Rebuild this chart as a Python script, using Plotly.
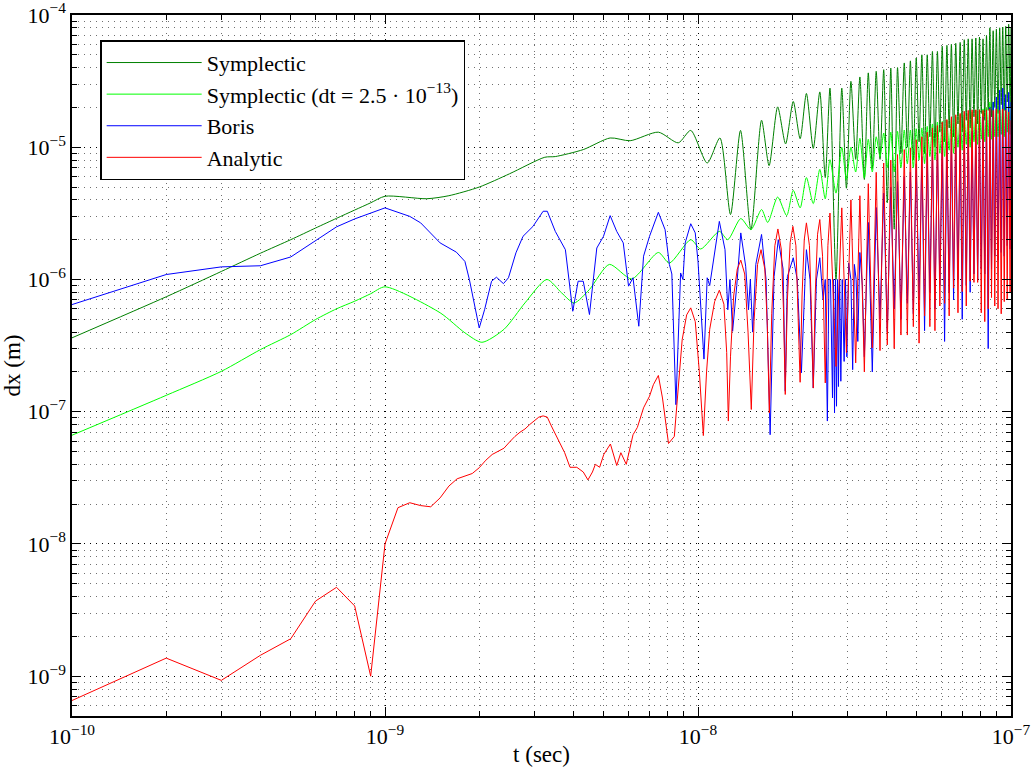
import plotly.graph_objects as go

# time values in ns, dx values in m
sym_t = [0.1, 0.2, 0.3, 0.4, 0.5, 0.6, 0.7, 0.8, 0.9, 1.0, 1.36, 1.6, 2.0, 2.5, 3.24, 3.5, 4.3, 5.24,
         6.07, 7.47, 8.65, 9.48, 10.7, 11.75, 12.7, 13.67, 14.76, 15.96, 16.87, 17.97, 19.05, 20.15,
         21.2, 22.2, 23.35, 24.5, 25.5, 26.4, 27.6, 28.8, 29.8, 30.8, 31.9, 32.9, 34.0, 35.0, 36.05,
         37.1, 38.15, 39.2, 40.25, 41.3, 42.35, 43.4, 44.5, 45.6, 46.65, 47.7, 48.75, 49.8, 50.85,
         51.9, 52.95, 54.0, 55.05, 56.1, 57.15, 58.2, 59.25, 60.3, 61.35, 62.4, 63.45, 64.5, 65.55,
         66.6, 67.7, 68.8, 69.85, 70.9, 71.95, 73.0, 74.05, 75.1, 76.15, 77.2, 78.25, 79.3, 80.35,
         81.4, 82.45, 83.5, 84.55, 85.6, 86.65, 87.7, 88.75, 89.8, 90.9, 92.0, 93.05, 94.1, 95.15,
         96.2, 97.25, 98.3, 99.35, 100.0]
sym_v = [3.62e-7, 7.4e-7, 1.15e-6, 1.58e-6, 2.0e-6, 2.45e-6, 2.9e-6, 3.35e-6, 3.8e-6, 4.26e-6,
         4.08e-6, 4.3e-6, 5.0e-6, 6.3e-6, 8.4e-6, 8.5e-6, 9.6e-6, 1.175e-5,
         1.12e-5, 1.30e-5, 1.08e-5, 1.34e-5, 7.6e-6, 1.175e-5, 3.1e-6, 1.34e-5, 2.38e-6, 1.6e-5,
         7.26e-6, 2.02e-5, 1.06e-5, 2.22e-5,
         1.16e-5, 2.55e-5, 9.8e-6, 2.62e-5, 5.9e-6, 2.8e-5, 1.0e-6, 2.8e-5, 4.9e-6, 3.15e-5, 8.1e-6,
         3.4e-5, 5.7e-6, 3.65e-5, 6.9e-6,
         3.75e-5, 8.1e-6, 3.86e-5, 3.8e-6, 3.97e-5, 2.4e-6, 4.0e-5, 9.0e-6, 4.34e-5, 1.0e-5, 4.5e-5,
         8.0e-6, 4.73e-5, 1.1e-5,
         5.0e-5, 9.0e-6, 5.0e-5, 1.2e-5, 5.3e-5, 1.0e-5, 5.3e-5, 1.3e-5, 5.8e-5, 1.1e-5, 5.9e-5,
         1.4e-5, 6.0e-5, 1.2e-5,
         6.1e-5, 1.5e-5, 6.2e-5, 1.3e-5, 6.5e-5, 1.6e-5, 6.6e-5, 1.4e-5, 6.6e-5, 1.7e-5, 6.7e-5,
         1.5e-5, 6.8e-5, 1.8e-5,
         6.6e-5, 1.6e-5, 7.0e-5, 1.9e-5, 8.0e-5, 1.7e-5, 7.6e-5, 2.0e-5, 7.8e-5, 1.8e-5, 8.0e-5,
         2.1e-5, 8.1e-5, 1.9e-5,
         8.2e-5, 2.2e-5, 8.5e-5, 2.0e-5, 8.0e-5]

sym2_t = [0.1, 0.2, 0.3, 0.4, 0.5, 0.6, 0.7, 0.8, 0.9, 1.0, 1.5, 1.8, 2.04, 2.4, 2.8, 3.29, 3.67,
          4.02, 4.5, 5.21, 6.14, 7.47, 8.1, 9.48, 10.2, 11.7, 12.45, 13.7, 14.76, 15.96, 16.7,
          17.97, 19.2, 20.15, 21.2, 22.2, 23.35, 24.5, 25.5, 26.4, 27.6, 28.8, 29.8, 30.8, 31.9,
          32.9, 34.0, 35.0, 36.05, 37.1, 38.15, 39.2, 40.25, 41.3, 42.35, 43.4, 44.5, 45.6, 46.65,
          47.7, 48.75, 49.8, 50.85, 51.9, 52.95, 54.0, 55.05, 56.1, 57.15, 58.2, 59.25, 60.3,
          61.35, 62.4, 63.45, 64.5, 65.55, 66.6, 67.7, 68.8, 69.85, 70.9, 71.95, 73.0, 74.05,
          75.1, 76.15, 77.2, 78.25, 79.3, 80.35, 81.4, 82.45, 83.5, 84.55, 85.6, 86.65, 87.7,
          88.75, 89.8, 90.9, 92.0, 93.05, 94.1, 95.15, 96.2, 97.25, 98.3, 99.35, 100.0]
sym2_v = [6.64e-8, 1.33e-7, 2.02e-7, 2.95e-7, 3.83e-7, 4.98e-7, 6.0e-7, 6.85e-7, 7.8e-7, 8.8e-7,
          5.6e-7, 3.95e-7, 3.35e-7, 4.2e-7, 6.65e-7, 1.0e-6, 7.9e-7,
          6.65e-7, 8.4e-7, 1.3e-6, 1.01e-6, 1.6e-6, 1.33e-6, 2.0e-6, 1.7e-6, 2.31e-6, 2.0e-6,
          2.89e-6, 2.38e-6, 3.38e-6, 2.7e-6,
          4.2e-6, 3.04e-6, 4.72e-6, 3.48e-6, 5.9e-6, 3.75e-6, 6.8e-6, 4.07e-6, 8.05e-6, 4.5e-6,
          1.0e-5, 5.7e-6, 1.0e-5, 6.5e-6,
          1.17e-5, 5.86e-6, 1.15e-5, 6.5e-6, 1.2e-5, 8.5e-6, 1.28e-5, 7.0e-6, 1.3e-5, 6.5e-6,
          1.32e-5, 7.0e-6, 1.35e-5, 7.5e-6,
          1.35e-5, 7.0e-6, 1.38e-5, 8.0e-6, 1.4e-5, 7.5e-6, 1.44e-5, 8.5e-6, 1.5e-5, 8.0e-6,
          1.55e-5, 9.0e-6, 1.57e-5,
          8.5e-6, 1.6e-5, 9.5e-6, 1.65e-5, 9.0e-6, 1.7e-5, 1.0e-5, 1.76e-5, 9.5e-6, 1.76e-5,
          1.05e-5, 1.8e-5, 1.0e-5,
          1.85e-5, 1.1e-5, 1.9e-5, 1.05e-5, 1.92e-5, 1.15e-5, 1.95e-5, 1.1e-5, 2.0e-5, 1.2e-5,
          2.2e-5, 1.15e-5, 2.2e-5,
          1.2e-5, 2.15e-5, 1.2e-5, 2.2e-5, 1.25e-5, 2.2e-5, 1.2e-5, 2.25e-5, 1.3e-5, 2.2e-5,
          1.25e-5, 2.0e-5]

boris_t = [0.1, 0.2, 0.3, 0.4, 0.5, 0.6, 0.7, 0.8, 0.9, 1.0, 1.2, 1.3, 1.5, 1.69, 1.8, 1.86, 2.0,
           2.08, 2.19, 2.27, 2.39, 2.48, 2.62, 2.76, 2.97, 3.2, 3.3, 3.5, 3.77, 3.9, 3.98, 4.14,
           4.3, 4.5, 4.75, 4.99, 5.24, 5.5, 5.77, 6.0, 6.2, 6.47, 6.7, 7.0, 7.47, 7.85, 8.1, 8.25,
           8.5, 8.8, 8.95, 9.1, 9.48, 9.8, 10.0, 10.45, 10.7, 10.9, 11.7, 12.2, 12.45, 12.65, 12.9,
           13.3, 13.7, 14.2, 14.5, 14.7, 14.95, 15.3, 15.96, 16.5, 17.0, 17.5, 18.05, 18.7, 19.0,
           19.3, 20.15, 20.75, 21.4, 22.0, 22.2, 22.8, 23.35, 23.9, 24.5, 25.1, 25.5, 25.9, 26.2,
           26.5, 26.9, 27.1, 27.3, 27.5, 27.7, 27.9, 28.1, 28.35, 28.6, 28.9, 29.3, 29.6, 29.9,
           30.3, 30.8, 31.2, 31.6, 32.0, 32.4, 32.9, 33.5, 34.0, 35.0, 36.05, 37.1, 38.15, 39.2,
           40.25, 41.3, 42.35, 43.4, 44.5, 45.6, 46.65, 47.7, 48.75, 49.8, 50.85, 51.9, 52.95,
           54.0, 55.05, 56.1, 57.15, 58.2, 59.25, 60.3, 61.35, 62.4, 63.45, 64.5, 65.55, 66.6,
           67.7, 68.8, 69.85, 70.9, 71.95, 73.0, 74.05, 75.1, 76.15, 77.2, 78.25, 79.3, 80.35,
           81.4, 82.45, 83.5, 84.55, 85.6, 86.65, 87.7, 88.75, 89.8, 90.9, 92.0, 93.05, 94.1,
           95.15, 96.2, 97.25, 98.3, 99.35, 100.0]
boris_v = [6.46e-7, 1.09e-6, 1.245e-6, 1.27e-6, 1.48e-6, 1.95e-6, 2.5e-6, 2.87e-6, 3.18e-6, 3.48e-6,
           3.0e-6, 2.68e-6, 1.89e-6, 1.61e-6, 1.37e-6, 1.0e-6, 4.3e-7,
           5.9e-7, 9.7e-7, 1.04e-6, 9.3e-7, 1.03e-6, 1.59e-6, 2.12e-6, 2.52e-6, 3.28e-6, 3.28e-6,
           2.31e-6, 1.68e-6, 8.9e-7, 5.75e-7, 9.7e-7,
           9.7e-7, 5.43e-7, 1.73e-6, 2.12e-6, 3.04e-6, 2.31e-6, 1.89e-6, 8.9e-7, 1.03e-6, 4.43e-7,
           1.5e-6, 2.12e-6, 3.22e-6, 2.38e-6, 1.3e-6, 1.1e-6,
           1.13e-7, 1.12e-6, 1.0e-6, 1.89e-6, 2.64e-6, 2.25e-6, 1.37e-6, 2.5e-7, 1.03e-6, 9.0e-7,
           2.75e-6, 1.68e-6, 5.9e-7, 1.0e-6, 4.06e-7,
           9.0e-7, 2.25e-6, 1.26e-6, 5.9e-7, 1.0e-6, 4.0e-7, 1.3e-6, 2.19e-6, 1.0e-6, 6.7e-8,
           1.05e-6, 2.0e-6, 1.2e-6, 1.43e-7,
           1.05e-6, 1.46e-6, 1.0e-6, 1.97e-7, 1.05e-6, 1.68e-6, 1.0e-6, 1.51e-7, 1.0e-6, 1.46e-6,
           7.0e-7, 1.0e-6, 8.5e-8, 1.0e-6,
           1.0e-6, 1.27e-7, 1.0e-6, 9.8e-8, 1.0e-6, 1.1e-7, 1.0e-6, 1.55e-7, 1.0e-6, 1.7e-7,
           1.0e-6, 2.4e-7, 1.0e-6, 2.6e-7,
           1.33e-6, 1.0e-6, 2.08e-7, 1.3e-6, 1.0e-6, 3.4e-7, 1.6e-6, 9.0e-7, 2.6e-7, 2.7e-6,
           2.0e-7, 3.5e-6, 5.0e-7, 4.5e-6,
           4.0e-7, 5.0e-6, 6.0e-7, 5.5e-6, 5.0e-7, 6.0e-6, 6.6e-7, 6.5e-6, 5.5e-7, 7.5e-6, 7.0e-7,
           8.5e-6, 4.1e-7,
           9.0e-6, 8.0e-7, 9.5e-6, 6.0e-7, 1.0e-5, 9.0e-7, 1.05e-5, 3.4e-7, 1.1e-5, 8.0e-7,
           1.15e-5, 7.0e-7, 1.2e-5,
           1.0e-6, 1.25e-5, 5.0e-7, 1.29e-5, 9.0e-7, 1.3e-5, 8.0e-7, 1.32e-5, 1.1e-6, 1.35e-5,
           1.0e-6, 1.4e-5, 1.2e-6,
           1.7e-5, 1.1e-6, 1.9e-5, 3.0e-7, 2.0e-5, 1.2e-6, 2.2e-5, 1.5e-6, 2.4e-5, 1.4e-6, 2.7e-5,
           1.6e-6, 2.8e-5,
           1.5e-6, 2.5e-5, 1.8e-6, 2.6e-5, 1.7e-6, 2.2e-5]

analytic_t = [0.1, 0.2, 0.3, 0.4, 0.5, 0.6, 0.7, 0.8, 0.9, 1.0, 1.1, 1.2, 1.3, 1.4, 1.5, 1.6, 1.7,
              1.8, 1.9, 2.0, 2.1, 2.2, 2.3, 2.4, 2.5, 2.6, 2.7, 2.8, 2.9, 3.0, 3.1, 3.2, 3.3, 3.4,
              3.5, 3.6, 3.75, 3.9, 4.1, 4.3, 4.45, 4.6, 4.7, 4.85, 5.0, 5.25, 5.5, 5.67, 5.9, 6.2,
              6.4, 6.7, 7.0, 7.2, 7.47, 7.7, 8.05, 8.4, 8.65, 8.9, 9.2, 9.48, 9.8, 10.1, 10.4,
              10.65, 10.9, 11.3, 11.7, 12.1, 12.35, 12.5, 12.7, 13.0, 13.35, 13.7, 14.1, 14.45,
              14.8, 15.1, 15.5, 15.9, 16.35, 16.65, 16.9, 17.2, 17.6, 18.0, 18.45, 18.75, 19.0,
              19.3, 19.7, 20.1, 20.55, 20.85, 21.2, 21.5, 21.85, 22.2, 22.7, 23.0, 23.35, 23.7,
              24.1, 24.5, 25.0, 25.5, 26.0, 26.4, 27.6, 28.8, 29.8, 30.8, 31.9, 32.9, 34.0, 35.0,
              36.05, 37.1, 38.15, 39.2, 40.25, 41.3, 42.35, 43.4, 44.5, 45.6, 46.65, 47.7, 48.75,
              49.8, 50.85, 51.9, 52.95, 54.0, 55.05, 56.1, 57.15, 58.2, 59.25, 60.3, 61.35, 62.4,
              63.45, 64.5, 65.55, 66.6, 67.7, 68.8, 69.85, 70.9, 71.95, 73.0, 74.05, 75.1, 76.15,
              77.2, 78.25, 79.3, 80.35, 81.4, 82.45, 83.5, 84.55, 85.6, 86.65, 87.7, 88.75, 89.8,
              90.9, 92.0, 93.05, 94.1, 95.15, 96.2, 97.25, 98.3, 99.35, 100.0]
analytic_v = [6.55e-10, 1.37e-9, 9.3e-10, 1.44e-9, 1.92e-9, 3.7e-9, 4.7e-9, 3.4e-9, 1.0e-9, 1.0e-8,
              1.88e-8, 2.05e-8, 1.95e-8, 1.91e-8, 2.23e-8, 2.74e-8, 3.11e-8,
              3.26e-8, 3.41e-8, 3.77e-8, 4.3e-8, 4.75e-8, 5.0e-8, 5.3e-8, 5.9e-8, 6.5e-8, 7.0e-8,
              7.4e-8, 8.0e-8, 8.6e-8, 9.1e-8, 9.3e-8, 9.1e-8, 7.8e-8,
              6.8e-8, 6.0e-8, 4.9e-8, 3.8e-8, 3.8e-8, 3.5e-8, 3.05e-8, 3.5e-8, 4.0e-8, 3.8e-8,
              4.75e-8, 5.7e-8, 3.92e-8, 4.9e-8, 4.0e-8, 6.7e-8,
              7.6e-8, 1.07e-7, 1.31e-7, 1.6e-7, 1.88e-7, 1.27e-7, 5.75e-8, 6.5e-8, 1.47e-7, 3.5e-7,
              5.4e-7, 6.1e-7, 4.8e-7, 2.0e-7, 6.6e-8,
              2.0e-7, 4.2e-7, 6.8e-7, 8.3e-7, 6.5e-7, 2.8e-7, 8.5e-8, 2.6e-7, 7.5e-7, 1.2e-6,
              1.4e-6, 1.1e-6, 4.0e-7,
              1.04e-7, 4.8e-7, 1.3e-6, 1.68e-6, 1.2e-6, 4.5e-7, 9.8e-8, 5.5e-7, 1.8e-6, 2.41e-6,
              1.7e-6, 6.0e-7, 1.35e-7,
              7.0e-7, 1.9e-6, 2.52e-6, 1.8e-6, 6.5e-7, 1.67e-7, 7.5e-7, 2.0e-6, 2.68e-6, 1.8e-6,
              6.5e-7, 1.51e-7, 8.0e-7,
              2.2e-6, 2.84e-6, 1.5e-6, 1.65e-7, 1.8e-6, 3.18e-6, 2.2e-7, 3.48e-6, 2.8e-7, 4.0e-6,
              2.34e-7, 4.3e-6, 2.0e-7, 5.3e-6,
              3.04e-7, 6.46e-6, 2.9e-7, 7.6e-6, 3.2e-7, 8.0e-6, 3.0e-7, 8.8e-6, 3.8e-7, 9.6e-6,
              3.8e-7, 9.9e-6, 4.4e-7,
              1.14e-5, 3.3e-7, 1.2e-5, 5.3e-7, 1.3e-5, 4.4e-7, 1.4e-5, 4.1e-7, 1.46e-5, 6.3e-7,
              1.55e-5, 6.6e-7, 1.62e-5,
              5.3e-7, 1.7e-5, 8.6e-7, 1.76e-5, 5.6e-7, 1.8e-5, 8.1e-7, 1.87e-5, 6.3e-7, 1.9e-5,
              9.7e-7, 1.92e-5, 9.5e-7,
              1.92e-5, 9.5e-7, 1.92e-5, 5.6e-7, 1.9e-5, 4.8e-7, 1.92e-5, 6.0e-7, 1.95e-5, 7.3e-7,
              1.9e-5, 6.3e-7, 1.95e-5,
              6.0e-7, 1.9e-5, 5.5e-7, 1.95e-5, 6.8e-7, 1.9e-5, 7.0e-7, 1.85e-5, 7.9e-7, 1.6e-5]

x_tick_vals = [1e-10, 1e-9, 1e-8, 1e-7]
x_tick_text = ["10<sup>−10</sup>", "10<sup>−9</sup>", "10<sup>−8</sup>", "10<sup>−7</sup>"]
y_tick_vals = [1e-9, 1e-8, 1e-7, 1e-6, 1e-5, 1e-4]
y_tick_text = ["10<sup>−9</sup>", "10<sup>−8</sup>", "10<sup>−7</sup>", "10<sup>−6</sup>",
               "10<sup>−5</sup>", "10<sup>−4</sup>"]

series = [
    ("Symplectic", sym_t, sym_v, "#008000", "spline"),
    ("Symplectic (dt = 2.5 · 10<sup>−13</sup>)", sym2_t, sym2_v, "#00ff00", "spline"),
    ("Boris", boris_t, boris_v, "#0000ff", "linear"),
    ("Analytic", analytic_t, analytic_v, "#ff0000", "linear"),
]

fig = go.Figure()
for name, t, v, color, shape in series:
    fig.add_trace(go.Scatter(
        x=[ti * 1e-9 for ti in t], y=v, mode="lines", name=name,
        line=dict(color=color, width=1, shape=shape, smoothing=0.7 if shape == "spline" else None),
    ))

minor_x = [m * 10.0 ** e for e in range(-10, -7) for m in range(2, 10)]
minor_y = [m * 10.0 ** e for e in range(-10, -4) for m in range(2, 10)]

grid_dash = "1px,5px"
axis_common = dict(
    type="log", ticks="inside", ticklen=9, tickwidth=1, tickcolor="black",
    showline=True, linecolor="black", linewidth=1.5, mirror="ticks",
    showgrid=True, gridcolor="#000000", gridwidth=1, griddash=grid_dash,
    zeroline=False, tickfont=dict(size=22), ticklabeloverflow="allow",
)

fig.update_xaxes(
    range=[-10, -7], tickvals=x_tick_vals, ticktext=x_tick_text,
    minor=dict(tickvals=minor_x, ticks="inside", ticklen=5, tickcolor="black",
               showgrid=True, gridcolor="#707070", griddash=grid_dash, gridwidth=1),
    title=dict(text="t (sec)", font=dict(size=23), standoff=0),
    **axis_common,
)
fig.update_yaxes(
    range=[-9.301, -4], tickvals=y_tick_vals, ticktext=y_tick_text,
    minor=dict(tickvals=minor_y, ticks="inside", ticklen=5, tickcolor="black",
               showgrid=True, gridcolor="#707070", griddash=grid_dash, gridwidth=1),
    title=dict(text="dx (m)", font=dict(size=23), standoff=8),
    **axis_common,
)

fig.update_layout(
    width=1035, height=767,
    margin=dict(l=72, r=24, t=15, b=51, autoexpand=False),
    paper_bgcolor="white", plot_bgcolor="white",
    font=dict(family="Liberation Serif, DejaVu Serif, serif", size=22, color="black"),
    showlegend=True,
    legend=dict(x=0.03, y=0.964, xanchor="left", yanchor="top", bgcolor="white",
                bordercolor="black", borderwidth=1.5, font=dict(size=22), itemwidth=95,
                tracegroupgap=0),
)

fig.write_html("out.html")
